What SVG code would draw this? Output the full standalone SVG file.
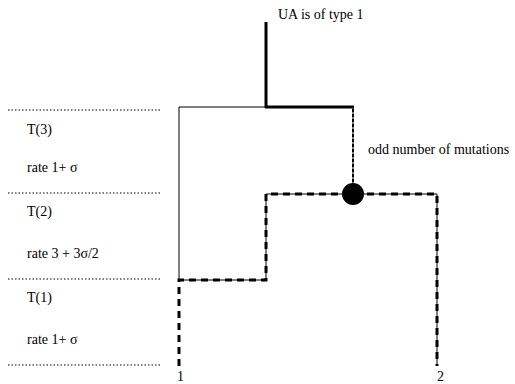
<svg xmlns="http://www.w3.org/2000/svg" width="515" height="384" viewBox="0 0 515 384">
<style>
.dot{stroke:#000;stroke-width:1;stroke-dasharray:1.5 2;fill:none}
.thin{stroke:#000;stroke-width:1;fill:none}
.thick{stroke:#000;stroke-width:3;fill:none}
.dash{stroke:#000;stroke-width:3;stroke-dasharray:7 5;fill:none}
</style>
<rect width="515" height="384" fill="#fff"/>
<g id="scale" font-family="Liberation Serif, DejaVu Serif, serif" font-size="14" fill="#000">
<line class="dot" x1="8" y1="110" x2="162" y2="110"/>
<line class="dot" x1="8" y1="193" x2="162" y2="193"/>
<line class="dot" x1="8" y1="279" x2="162" y2="279"/>
<line class="dot" x1="8" y1="365" x2="162" y2="365"/>
<text x="27" y="134">T(3)</text>
<text x="27" y="172">rate 1+  σ</text>
<text x="27" y="216">T(2)</text>
<text x="27" y="258">rate 3 + 3σ/2</text>
<text x="27" y="302">T(1)</text>
<text x="27" y="344">rate 1+  σ</text>
</g>
<g id="connectors">
<line class="thick" x1="266" y1="22" x2="266" y2="108"/>
<line class="thin" x1="179" y1="107" x2="266" y2="107"/>
<line class="thick" x1="265" y1="107" x2="354" y2="107"/>
<line class="thin" x1="179" y1="107" x2="179" y2="280"/>
<line class="thin" x1="353" y1="107" x2="353" y2="194"/>
<line stroke="#000" stroke-width="2" stroke-dasharray="3 2" x1="353" y1="109" x2="353" y2="186"/>
<polyline class="thin" points="179,280 266,280 266,194 437,194 437,366"/>
<polyline class="dash" points="179,366 179,280 266,280 266,194 437,194 437,366"/>
</g>
<g id="mutation"><circle cx="353" cy="194" r="11" fill="#000"/></g>
<g id="labels" font-family="Liberation Serif, DejaVu Serif, serif" font-size="14" fill="#000">
<text x="278" y="19">UA is of type 1</text>
<text x="368" y="154">odd number of mutations</text>
<text x="177" y="381">1</text>
<text x="437" y="381">2</text>
</g>
</svg>
